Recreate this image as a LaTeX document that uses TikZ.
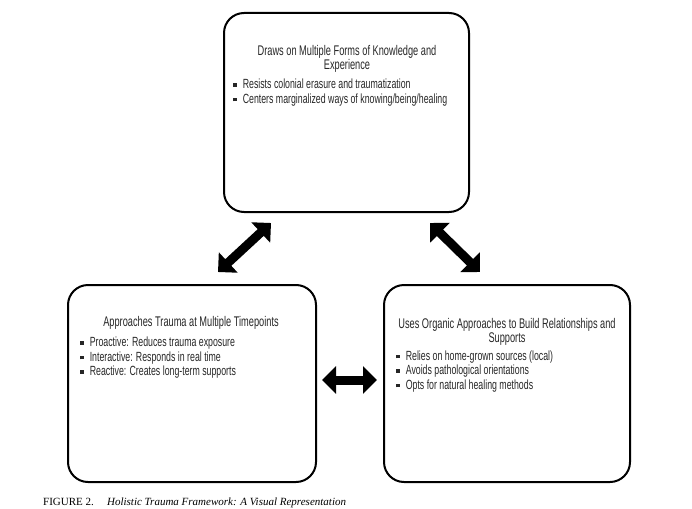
\documentclass[tikz,border=0pt]{standalone}
\usepackage{fontspec}
\setmainfont{Liberation Sans}[FakeStretch=0.66]
\newfontfamily\capfont{Liberation Serif}
\usetikzlibrary{arrows.meta}
\tikzset{
  box/.style={draw=black, line width=2pt, rounded corners=20pt},
  title/.style={font=\fontsize{14}{13.5}\selectfont, text=black!85, align=center, inner sep=0pt},
  bullets/.style={font=\fontsize{13.3}{14.5}\selectfont, text=black!85, align=left, inner sep=0pt, anchor=north west},
  bigarrow/.style={line width=9pt, {Triangle[length=14pt,width=27pt]}-{Triangle[length=14pt,width=27pt]}},
}
\newcommand{\bsq}{\raisebox{2pt}{\rule{3.6pt}{3.6pt}}\hspace{6pt}}
\begin{document}
\begin{tikzpicture}[x=1pt,y=-1pt]
\useasboundingbox (0,0) rectangle (692,508);
% boxes
\draw[box] (224,13) rectangle (469,212);
\draw[box] (68,285) rectangle (316,482);
\draw[box] (384,285) rectangle (630,482);
\node (topbox) at (346.5,112.5) {};
\node (leftbox) at (192,383.5) {};
\node (rightbox) at (507,383.5) {};
% titles
\node[title] (t1) at (347,59) {Draws on Multiple Forms of Knowledge and\\Experience};
\node[title] (t2) at (191,323) {Approaches Trauma at Multiple Timepoints};
\node[title] (t3) at (507,332) {Uses Organic Approaches to Build Relationships and\\Supports};
% bullets
\node[bullets] (b1) at (233,79) {\bsq Resists colonial erasure and traumatization\\\bsq Centers marginalized ways of knowing/being/healing};
\node[bullets] (b2) at (80,337) {\bsq Proactive: Reduces trauma exposure\\\bsq Interactive: Responds in real time\\\bsq Reactive: Creates long-term supports};
\node[bullets] (b3) at (396,350.5) {\bsq Relies on home-grown sources (local)\\\bsq Avoids pathological orientations\\\bsq Opts for natural healing methods};
% arrows
\coordinate (a1s) at (218,272); \coordinate (a1e) at (271,223);
\coordinate (a2s) at (430,223); \coordinate (a2e) at (480,272);
\coordinate (a3s) at (322,380); \coordinate (a3e) at (377,380);
\draw[bigarrow] (a1s) -- (a1e);
\draw[bigarrow] (a2s) -- (a2e);
\draw[bigarrow] (a3s) -- (a3e);
% caption
\node[font=\capfont\fontsize{11}{11}\selectfont, anchor=west, inner sep=0pt] (cap) at (43,503) {FIGURE 2.\hspace{1.2em}\textit{Holistic Trauma Framework: A Visual Representation}};
\end{tikzpicture}
\end{document}
